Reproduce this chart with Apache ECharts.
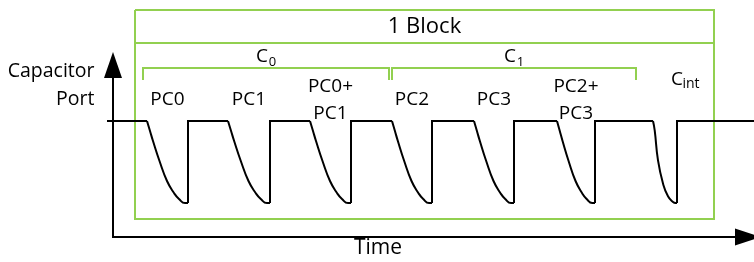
<!DOCTYPE html>
<html>
<head>
<meta charset="utf-8">
<script src="https://cdn.jsdelivr.net/npm/echarts@6/dist/echarts.min.js"></script>
<style>
  html, body { margin: 0; padding: 0; background: #fff; }
  #chart { width: 754px; height: 262px; }
</style>
</head>
<body>
<div id="chart"></div>
<script>
// diagram lives in a 754 x 262 unit space (x = time, y grows downwards)
const baseLevel = 121;
const bottomLevel = 203;
const traceStart = 107;
const traceEnd = 760;

// where each discharge starts and where the port snaps back up
const pulseStart = [147, 228, 310, 392, 474, 557, 653];
const pulseRise = [188, 270, 351, 432, 514, 595, 677];
const pulseLabels = ['PC0', 'PC1', 'PC0+\nPC1', 'PC2', 'PC3', 'PC2+\nPC3'];

// discharge curve shapes (offset from the pulse start)
const pcCurveDx = [0, 3, 6, 12.5, 20, 27, 32, 38, 41];
const pcCurveDy = [0, 10, 20, 40, 60, 72, 78, 82, 82];
const cintCurveDx = [0, 1.7, 5, 10, 15, 20, 22.7, 24];
const cintCurveDy = [0, 9.3, 39.3, 62.6, 75.3, 81, 82, 82];

// green frames
const blockLeft = 135, blockRight = 714, blockTop = 10, blockBottom = 219, blockHeader = 43;
const groupSubs = ['0', '1'];
const groupSpans = [[143, 389], [392, 636]];
const bracketTop = 68, bracketFoot = 80;

// axes
const originX = 113, originY = 237, yArrowTip = 52, xArrowTip = 761;

const font = 'Open Sans';
const ink = '#000';
const green = '#92D050';

function textItem(x, y, text, fontSize, extra) {
  return {
    value: [x, y],
    label: Object.assign({
      show: true, position: 'inside', formatter: text,
      fontFamily: font, fontSize: fontSize, fontWeight: 500,
      color: ink, lineHeight: 27, opacity: 1, textBorderWidth: 0
    }, extra || {})
  };
}

const series = [];

// green block frame + group brackets
const frameLines = [
  { coords: [[blockLeft, blockTop], [blockRight, blockTop], [blockRight, blockBottom], [blockLeft, blockBottom], [blockLeft, blockTop]] },
  { coords: [[blockLeft, blockHeader], [blockRight, blockHeader]] }
];
groupSpans.forEach(s => {
  frameLines.push({ coords: [[s[0], bracketFoot], [s[0], bracketTop], [s[1], bracketTop], [s[1], bracketFoot]] });
});
series.push({
  type: 'lines', coordinateSystem: 'cartesian2d', polyline: true, silent: true,
  lineStyle: { color: green, width: 2, opacity: 1 }, data: frameLines
});

// flat parts and vertical rises of the port trace, plus the axes
const traceLines = [];
let prev = [[traceStart, baseLevel]];
pulseStart.forEach((s, i) => {
  prev.push([s, baseLevel]);
  traceLines.push({ coords: prev });
  prev = [[pulseRise[i], bottomLevel], [pulseRise[i], baseLevel]];
});
prev.push([traceEnd, baseLevel]);
traceLines.push({ coords: prev });
traceLines.push({ coords: [[originX, yArrowTip + 24], [originX, originY], [xArrowTip - 24, originY]] });
series.push({
  type: 'lines', coordinateSystem: 'cartesian2d', polyline: true, silent: true,
  lineStyle: { color: '#000', width: 2, opacity: 1 }, data: traceLines
});

// discharge curves
pulseStart.forEach((s, i) => {
  const isInt = i === pulseStart.length - 1;
  const dx = isInt ? cintCurveDx : pcCurveDx;
  const dy = isInt ? cintCurveDy : pcCurveDy;
  const w = pulseRise[i] - s;
  const last = dx[dx.length - 1];
  series.push({
    type: 'line', smooth: 0.5, symbol: 'none', silent: true,
    lineStyle: { color: '#000', width: 2 },
    data: dx.map((d, k) => [s + d * w / last, baseLevel + dy[k]])
  });
});

// arrow heads
series.push({
  type: 'scatter', symbol: 'triangle', silent: true,
  itemStyle: { color: '#000', opacity: 1 },
  data: [
    { value: [originX, yArrowTip + 13], symbolSize: [18, 26] },
    { value: [xArrowTip - 13, originY], symbolSize: [17, 26], symbolRotate: -90 }
  ]
});

// texts
const texts = [];
pulseLabels.forEach((t, i) => {
  texts.push(textItem((pulseStart[i] + pulseRise[i]) / 2, 100, t, 19));
});
texts.push(textItem(677, 80, 'C', 19));
texts.push(textItem(691, 84, 'int', 14));
groupSpans.forEach((s, i) => {
  const cx = (s[0] + s[1]) / 2;
  texts.push(textItem(cx - 4, 57, 'C', 19));
  texts.push(textItem(cx + 6.5, 62.5, groupSubs[i], 13));
});
texts.push(textItem((blockLeft + blockRight) / 2, 27, '1 Block', 22));
texts.push(textItem(95, 71, 'Capacitor', 19.5, { position: 'left', distance: 0 }));
texts.push(textItem(95, 99, 'Port', 19.5, { position: 'left', distance: 0 }));
texts.push(textItem(378, 248, 'Time', 21));
series.push({
  type: 'scatter', symbolSize: 1, silent: true,
  itemStyle: { color: '#fff', opacity: 1 },
  data: texts
});

const chart = echarts.init(document.getElementById('chart'));
chart.setOption({
  animation: false,
  grid: { left: 0, right: 0, top: 0, bottom: 0 },
  xAxis: { type: 'value', min: 0, max: 754, show: false },
  yAxis: { type: 'value', min: 0, max: 262, inverse: true, show: false },
  series: series
});
</script>
</body>
</html>
